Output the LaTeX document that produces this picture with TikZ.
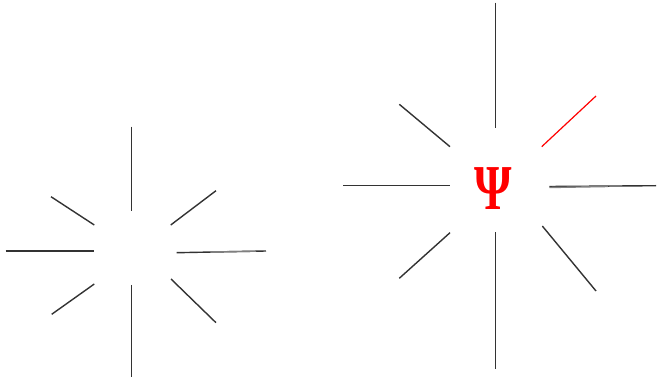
\documentclass[tikz,border=0pt]{standalone}
\usepackage{fontspec}
\newfontfamily\psifont{Liberation Serif}
\tikzset{
  ray/.style={draw=black!80, line width=1.4pt},
  grayray/.style={draw=black!50, line width=1.4pt},
  redray/.style={draw=red, line width=1.2pt},
  psilabel/.style={text=red, inner sep=0pt, font=\psifont\bfseries\fontsize{64}{64}\selectfont, xscale=0.75}
}
\begin{document}
\begin{tikzpicture}[x=1pt,y=-1pt]
\useasboundingbox (0,0) rectangle (659,379);
% left star
\draw[ray] (131.7,126.7) -- (131.7,210.7);
\draw[ray] (51,196.7) -- (94.3,225);
\draw[ray] (170.7,225) -- (216,190.7);
\draw[ray] (5.7,251) -- (94.3,251);
\draw[ray] (176.7,252.7) -- (266,251);
\draw[grayray] (210,252) -- (256,251.2);
\draw[ray] (51.7,314.3) -- (94.3,284);
\draw[ray] (131.7,285) -- (131.7,376.7);
\draw[ray] (171,279) -- (216,322.7);
% right star
\draw[ray] (495.7,2.7) -- (495.7,127.7);
\draw[ray] (399.3,104.3) -- (450,146.7);
\draw[redray] (541.7,146.7) -- (596,96);
\draw[ray] (343.3,185.7) -- (450,185.7);
\draw[ray] (549.3,186.5) -- (656,185.7);
\draw[grayray] (549.3,187.5) -- (608,186.5);
\draw[ray] (450,232.7) -- (399.3,278.3);
\draw[ray] (495.7,232.3) -- (495.7,369.3);
\draw[ray] (542.3,226) -- (596,291);
\node[psilabel] (psi) at (493.3,189) {Ψ};
\end{tikzpicture}
\end{document}
